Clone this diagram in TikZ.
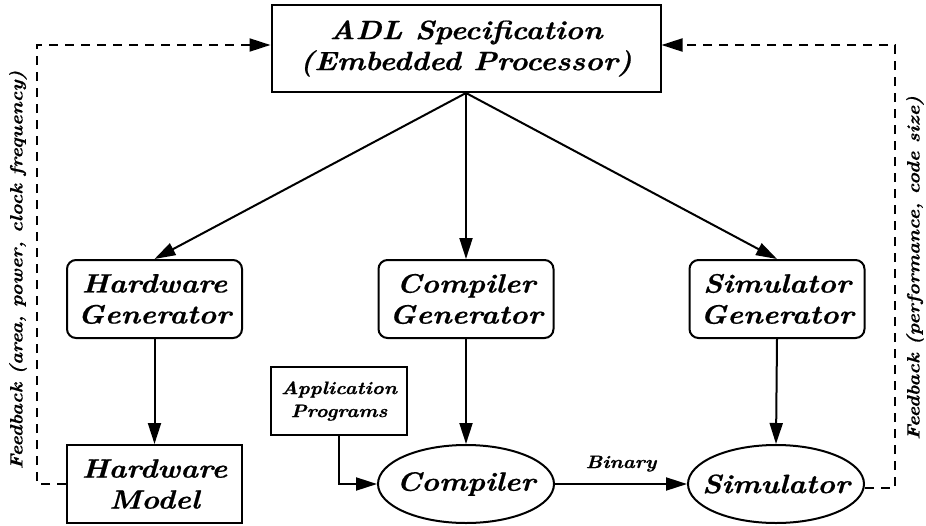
\documentclass[tikz,border=0pt]{standalone}
\usepackage{fontspec}
\setmainfont{Latin Modern Roman}[BoldItalicFeatures={FakeStretch=1.13,FakeBold=0.6}]
\usetikzlibrary{arrows.meta,shapes.geometric}
\begin{document}
\begin{tikzpicture}[x=1pt,y=-1pt,line width=2pt,
  tip/.style={-{Triangle[length=21pt,width=13pt]}},
  big/.style={font=\fontsize{26.5}{31}\selectfont\bfseries\itshape},
  small/.style={font=\fontsize{18}{23}\selectfont\bfseries\itshape},
  genbox/.style={draw,rounded corners=9pt,minimum width=175pt,minimum height=78pt,inner sep=0pt,align=center,big},
  plainbox/.style={draw,minimum width=175pt,minimum height=78pt,inner sep=0pt,align=center,big},
  tool/.style={draw,ellipse,minimum width=176pt,minimum height=78pt,inner sep=0pt},
  fb/.style={dashed,dash pattern=on 9pt off 7pt},
  fbtext/.style={rotate=90,font=\fontsize{17.8}{22}\selectfont\bfseries\itshape}
]
\useasboundingbox (0,0) rectangle (926,525);

% specification at the top
\node[draw,minimum width=389pt,minimum height=87pt,inner sep=0pt,align=center,big] (adl) at (466,48.5)
  {ADL Specification\\(Embedded Processor)};

% generators
\node[genbox] (hg) at (154.5,299) {Hardware\\Generator};
\node[genbox] (cg) at (466,299) {Compiler\\Generator};
\node[genbox] (sg) at (777,299) {Simulator\\Generator};

% generated tools (fixed-size ellipses, names set as centred labels)
\node[plainbox] (hm) at (154.5,484) {Hardware\\Model};
\node[tool,label={[big]center:Compiler}] (comp) at (466,484) {};
\node[tool,label={[big]center:Simulator}] (sim) at (776,484) {};

\node[draw,minimum width=136pt,minimum height=68pt,inner sep=0pt,align=center,small] (app) at (339,401)
  {Application\\Programs};

% generation flow
\draw[tip] (adl.south) -- (hg.north);
\draw[tip] (adl.south) -- (cg.north);
\draw[tip] (adl.south) -- (sg.north);
\draw[tip] (hg.south) -- (hm.north);
\draw[tip] (cg.south) -- (comp.north);
\draw[tip] (sg.south) -- (sim.north);
\draw[tip] (app.south) |- (comp.west);
\draw[tip] (comp.east) -- node[above=8pt,small] (bin) {Binary} (sim.west);

% feedback loops
\coordinate (fbl1) at (37,484);
\coordinate (fbl2) at (37,45);
\coordinate (fbr1) at (895,488);
\coordinate (fbr2) at (895,45);
\draw[fb,tip] (hm.west) -- (fbl1) -- (fbl2) -- (fbl2 -| adl.west);
\draw[fb,tip] (sim.east |- fbr1) -- (fbr1) -- (fbr2) -- (fbr2 -| adl.east);

\node[fbtext] (fbl) at (18,270) {Feedback (area, power, clock frequency)};
\node[fbtext] (fbr) at (915,268) {Feedback (performance, code size)};
\end{tikzpicture}
\end{document}
